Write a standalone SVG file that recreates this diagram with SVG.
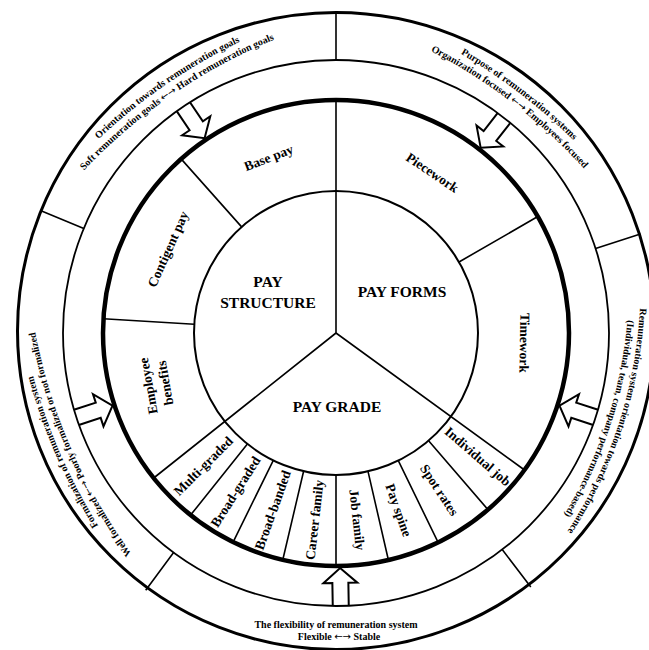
<svg xmlns="http://www.w3.org/2000/svg" xmlns:xlink="http://www.w3.org/1999/xlink" width="649" height="650" viewBox="0 0 649 650">
<style>
.c{fill:none;stroke:#000}
text{font-family:"Liberation Serif","Times New Roman",serif;font-weight:bold;fill:#000}
.lbl{font-size:13.5px;text-anchor:middle}
.big{font-size:15.5px;text-anchor:middle}
.ot{font-size:10px}
.ar{font-family:"DejaVu Sans",sans-serif;font-weight:normal}
.arr{fill:#fff;stroke:#000;stroke-width:2}
.dv{stroke:#000;stroke-width:1.6;fill:none}
</style>
<defs>
<path id="arrow" d="M273,-8 L250,-8 L250,-17 L235,0 L250,17 L250,8 L273,8"/>
<path id="tl1" d="M3.1,259.1 A550,550 0 0 1 386.2,-4.3"/>
<path id="tl2" d="M9.9,269.0 A550,550 0 0 1 393.0,5.6"/>
<path id="tr1" d="M304.0,-7.2 A550,550 0 0 1 672.9,275.9"/>
<path id="tr2" d="M296.7,2.3 A550,550 0 0 1 665.6,285.4"/>
<path id="rt1" d="M630.6,192.1 A450,450 0 0 1 491.6,620.1"/>
<path id="rt2" d="M619.2,188.4 A450,450 0 0 1 480.2,616.4"/>
<path id="lf1" d="M200.0,645.7 A550,550 0 0 1 14.6,219.3"/>
<path id="lf2" d="M211.0,640.9 A550,550 0 0 1 25.6,214.5"/>
</defs>

<g id="connectors">
<use href="#arrow" class="arr" transform="translate(336 333) rotate(-124)"/>
<use href="#arrow" class="arr" transform="translate(336 333) rotate(-52)"/>
<use href="#arrow" class="arr" transform="translate(336 333) rotate(18)"/>
<use href="#arrow" class="arr" transform="translate(336 333) rotate(89)"/>
<use href="#arrow" class="arr" transform="translate(336 333) rotate(162)"/>
</g>

<g id="rings">
<circle class="c" cx="336" cy="331" r="318.5" stroke-width="3"/>
<circle class="c" cx="336" cy="333" r="273" stroke-width="1.8"/>
<circle class="c" cx="336" cy="333" r="233" stroke-width="4.5"/>
<circle class="c" cx="336" cy="333" r="142" stroke-width="2"/>
</g>

<g id="dividers">
<path class="dv" d="M336,60 L336,12 M595.6,248.6 L640.4,234.1 M502.2,549.6 L530.8,586.9 M173.6,552.5 L145.7,590.2 M83.8,228.5 L40.4,210.5"/>
<path class="dv" stroke-width="2" d="M336,333 L336,100 M336,333 L524.5,470 M336,333 L153.7,478"/>
<path class="dv" d="M241.6,226.9 L181.1,158.9 M194.3,324.3 L103.4,318.8 M459,262 L537.8,216.5"/>
<path class="dv" d="M428.6,440.7 L487.9,509.6 M398.3,460.6 L438.1,542.4 M368,471.4 L388.4,560 M336,475 L336,566 M303.6,471.3 L282.8,559.8 M273.3,460.4 L233.1,542.1 M247.4,444 L190.6,515.1"/>
</g>

<g id="pay-structure">
<text class="big" x="268" y="287">PAY</text>
<text class="big" x="268" y="308">STRUCTURE</text>
</g>
<g id="pay-forms">
<text class="big" x="402" y="297">PAY FORMS</text>
</g>
<g id="pay-grade">
<text class="big" x="337" y="412">PAY GRADE</text>
</g>

<g id="base-pay"><text class="lbl" dy="0.35em" transform="translate(268.6 157.5) rotate(-21)">Base pay</text></g>
<g id="contigent-pay"><text class="lbl" dy="0.35em" transform="translate(167.8 249.1) rotate(-66)">Contigent pay</text></g>
<g id="employee-benefits"><text class="lbl" transform="translate(156.2 384.5) rotate(-100)"><tspan x="0" y="-3.5">Employee</tspan><tspan x="0" y="13.5">benefits</tspan></text></g>
<g id="piecework"><text class="lbl" dy="0.35em" transform="translate(432.5 172.5) rotate(34)">Piecework</text></g>
<g id="timework"><text class="lbl" dy="0.35em" transform="translate(524.7 342.9) rotate(91)">Timework</text></g>

<g id="individual-job"><text class="lbl" dy="0.35em" transform="translate(477.9 456.3) rotate(41)">Individual job</text></g>
<g id="spot-rates"><text class="lbl" dy="0.35em" transform="translate(439.5 489.9) rotate(56.6)">Spot rates</text></g>
<g id="pay-spine"><text class="lbl" dy="0.35em" transform="translate(398.8 510.2) rotate(70.5)">Pay spine</text></g>
<g id="job-family"><text class="lbl" dy="0.35em" transform="translate(357.3 519.8) rotate(83.5)">Job family</text></g>
<g id="career-family"><text class="lbl" dy="0.35em" transform="translate(314.4 519.8) rotate(-83.4)">Career family</text></g>
<g id="broad-banded"><text class="lbl" dy="0.35em" transform="translate(272.6 510) rotate(-70.3)">Broad-banded</text></g>
<g id="broad-graded"><text class="lbl" dy="0.35em" transform="translate(235.3 491.7) rotate(-57.6)">Broad-graded</text></g>
<g id="multi-graded"><text class="lbl" dy="0.35em" transform="translate(203.1 465.9) rotate(-45)">Multi-graded</text></g>

<g id="orientation-goals">
<text class="ot"><textPath href="#tl1" startOffset="50%" text-anchor="middle">Orientation towards remuneration goals</textPath></text>
<text class="ot"><textPath href="#tl2" startOffset="50%" text-anchor="middle">Soft remuneration goals <tspan class="ar">←→</tspan> Hard remuneration goals</textPath></text>
</g>
<g id="purpose">
<text class="ot"><textPath href="#tr1" startOffset="50%" text-anchor="middle">Purpose of remuneration systems</textPath></text>
<text class="ot"><textPath href="#tr2" startOffset="50%" text-anchor="middle">Organization focused <tspan class="ar">←→</tspan> Employees focused</textPath></text>
</g>
<g id="performance">
<text class="ot"><textPath href="#rt1" startOffset="50%" text-anchor="middle">Remuneration system orientation towards performance</textPath></text>
<text class="ot"><textPath href="#rt2" startOffset="50%" text-anchor="middle">(Individual, team, company performance-based)</textPath></text>
</g>
<g id="flexibility">
<text class="ot" x="336" y="628" text-anchor="middle">The flexibility of remuneration system</text>
<text class="ot" x="339" y="640" text-anchor="middle">Flexible <tspan class="ar">←→</tspan> Stable</text>
</g>
<g id="formalization">
<text class="ot"><textPath href="#lf1" startOffset="50%" text-anchor="middle">Formalization of remuneration system</textPath></text>
<text class="ot"><textPath href="#lf2" startOffset="50%" text-anchor="middle">Well formalized <tspan class="ar">←→</tspan> Poorly formalized or not formalized</textPath></text>
</g>
</svg>
